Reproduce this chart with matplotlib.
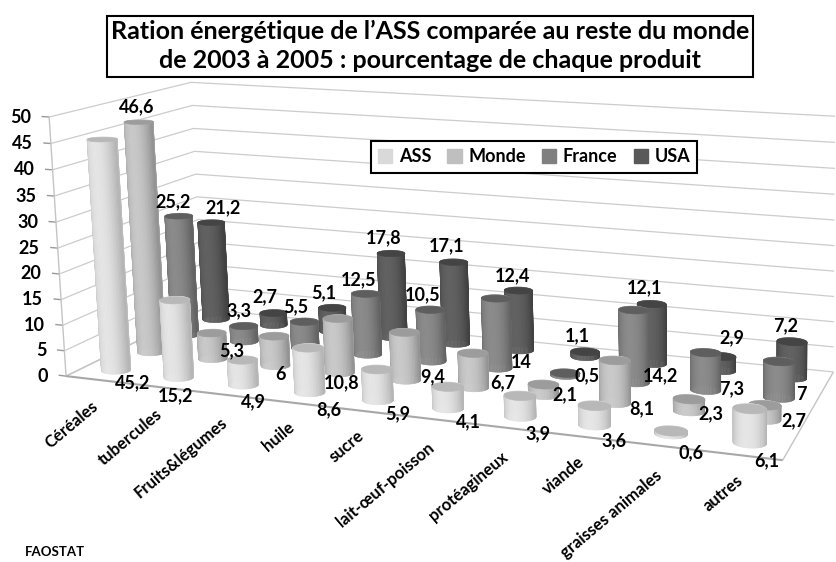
import numpy as np
import matplotlib
matplotlib.use('Agg')
import matplotlib.pyplot as plt
import matplotlib.patches as mpatches
from mpl_toolkits.mplot3d.art3d import Poly3DCollection, Line3DCollection

plt.rcParams['font.family'] = ['Lato', 'DejaVu Sans']
plt.rcParams['font.weight'] = 'bold'

W, H = 836, 562

categories = ["Céréales", "tubercules", "Fruits&légumes", "huile", "sucre",
              "lait-œuf-poisson", "protéagineux", "viande", "graisses animales", "autres"]
series = ["ASS", "Monde", "France", "USA"]
ass = [45.2, 15.2, 4.9, 8.6, 5.9, 4.1, 3.9, 3.6, 0.6, 6.1]
monde = [46.6, 5.3, 6, 10.8, 9.4, 6.7, 2.1, 8.1, 2.3, 2.7]
france = [25.2, 3.3, 5.5, 12.5, 10.5, 14, 0.5, 14.2, 7.3, 7]
usa = [21.2, 2.7, 5.1, 17.8, 17.1, 12.4, 1.1, 12.1, 2.9, 7.2]
z_ticks = list(range(0, 55, 5))

values = [ass, monde, france, usa]
legend_colors = ['#d9d9d9', '#bfbfbf', '#808080', '#595959']
# edge of the side, middle of the side, cap
shades = [('#b4b4b4', '#e6e6e6', '#b8b8b8'),
          ('#929292', '#cacaca', '#9c9c9c'),
          ('#626262', '#8c8c8c', '#5e5e5e'),
          ('#404040', '#626262', '#444444')]

# where the value labels sit, in picture pixels
label_pos = [
    [(133, 383), (176, 396), (253, 402), (329, 410), (398, 414), (468, 422), (538, 434), (614, 441), (691, 453), (767, 461)],
    [(137, 107), (232, 351), (280, 375), (342, 383), (433, 377), (503, 383), (565, 395), (642, 409), (711, 414), (794, 421)],
    [(173, 202), (239, 311), (296, 307), (359, 280), (423, 295), (521, 363), (587, 376), (661, 376), (732, 389), (801, 395)],
    [(223, 208), (265, 297), (324, 293), (384, 238), (447, 246), (512, 276), (577, 336), (645, 288), (732, 338), (786, 326)],
]
cat_label_pos = [(72, 425), (130, 437), (181, 458), (279, 437), (347, 446),
                 (385, 485), (468, 486), (563, 475), (611, 514), (723, 493)]

# camera fitted on points: (x, y, z) -> (px, py)
world_pts = [(-.5, -.5, 0), (-.5, -.5, 50), (-.5, 3.5, 50), (-.5, 3.5, 0), (9.5, 3.5, 50), (9.5, 3.5, 0),
             (9.5, -.5, 0), (0, 0, 0), (3, 0, 0), (4, 0, 0), (9, 0, 0), (0, 0, 45.2), (0, 1, 46.6), (0, 3, 21.2),
             (9, 3, 7.2), (9, 1, 0), (9, 2, 7), (3, 3, 17.8), (4, 3, 17.1), (7, 3, 12.1), (7, 2, 14.2), (5, 2, 14)]
pixel_pts = [(65, 378), (50, 117), (190, 80), (205, 310), (833, 113), (832, 370),
             (782, 465), (115, 364), (308, 390), (377, 399), (750, 440), (103, 142), (139, 122), (210, 223),
             (791, 342), (765, 418), (778, 362), (390, 255), (453, 263), (652, 305), (643, 312), (496, 300)]


def fit_camera(world, pixels):
    rows = []
    for (x, y, z), (u, v) in zip(world, pixels):
        rows.append([x, y, z, 1, 0, 0, 0, 0, -u * x, -u * y, -u * z, -u])
        rows.append([0, 0, 0, 0, x, y, z, 1, -v * x, -v * y, -v * z, -v])
    p = np.linalg.svd(np.array(rows))[2][-1].reshape(3, 4)
    return p / (p[2] @ np.array([4.5, 1.5, 10, 1]))


def px(x, y):
    return x / W, 1 - y / H


fig = plt.figure(figsize=(W / 100, H / 100), dpi=100)
# square axes as wide as the figure, mplot3d forces a square box anyway
ax = fig.add_axes([0, -(W - H) / 2 / H, 1, W / H], projection='3d')
ax.set_axis_off()
ax.computed_zorder = False

P = fit_camera(world_pts, pixel_pts)
x0, x1 = ax.viewLim.intervalx
y0, y1 = ax.viewLim.intervaly
# py=-(W-H)/2 is the top of the axes box
to_view = np.array([[(x1 - x0) / W, 0, x0],
                    [0, -(y1 - y0) / W, y1 - (y1 - y0) * ((W - H) / 2) / W],
                    [0, 0, 1]])
PV = to_view @ P
M = np.array([PV[0], PV[1], PV[2] - [0, 0, 0, 0.5], PV[2]])
ax.get_proj = lambda: M


def to_pixels(x, y, z):
    u, v, w = P @ np.array([x, y, z, 1])
    return u / w, v / w


def add_lines(segments, color, lw):
    ax.add_collection3d(Line3DCollection(segments, colors=color, linewidths=lw, zorder=2))


# walls
xl, xr, yf, yb = -0.5, 9.5, -0.5, 3.5
grid = []
marks = []
for z in z_ticks:
    grid.append([(xl, yf, z), (xl, yb, z), (xr, yb, z)])
    marks.append([(xl - 0.12, yf, z), (xl, yf, z)])
    ux, uy = to_pixels(xl, yf, z)
    fig.text(*px(ux - 18, uy), str(z), ha='right', va='center', fontsize=13)
add_lines(grid, '#cccccc', 0.9)
add_lines(marks, '#999999', 1)
add_lines([[(xl, yf, 0), (xl, yf, 50)], [(xr, yf, 0), (xr, yb, 0)], [(xl, yf, 0), (xl, yb, 0)]], '#c4c4c4', 1)
add_lines([[(xl, yf, 0), (xr, yf, 0)]], '#a8a8a8', 1.5)


def cylinder(cx, cy, h, edge, mid, cap, order):
    t = np.linspace(0, 2 * np.pi, 61)
    xs = cx + 0.205 * np.cos(t)
    ys = cy + 0.20 * np.sin(t)
    X = np.array([xs, xs])
    Y = np.array([ys, ys])
    Z = np.array([np.zeros_like(t), np.full_like(t, h)])
    e = np.array(matplotlib.colors.to_rgb(edge))
    m = np.array(matplotlib.colors.to_rgb(mid))
    k = np.abs(np.sin(t[:-1] + 0.05))[:, None]
    side = (e + (m - e) * k ** 1.3)[None, :, :]
    ax.plot_surface(X, Y, Z, facecolors=side, rstride=1, cstride=1, shade=False,
                    linewidth=0.4, zorder=order)
    ax.add_collection3d(Poly3DCollection([list(zip(xs, ys, np.full_like(t, h)))], facecolors=cap,
                                         edgecolors=cap, linewidths=0.4, zorder=order + 0.5))


for row in range(3, -1, -1):
    for i, v in enumerate(values[row]):
        cylinder(i, row, v, *shades[row], order=10 + (3 - row) * 12 + (9 - i))

# value labels
for row, vals in enumerate(values):
    for v, (lx, ly) in zip(vals, label_pos[row]):
        fig.text(*px(lx, ly), str(v).replace('.', ','), ha='center', va='center', fontsize=13)

# category labels
for name, (lx, ly) in zip(categories, cat_label_pos):
    fig.text(*px(lx, ly), name, ha='center', va='center', rotation=40, fontsize=12)

# title box
fig.add_artist(mpatches.Rectangle(px(107, 77), 646 / W, 61 / H, transform=fig.transFigure,
                                  facecolor='white', edgecolor='black', lw=1.5))
fig.text(*px(430, 31), "Ration énergétique de l’ASS comparée au reste du monde", ha='center', va='center', fontsize=18)
fig.text(*px(430, 61), "de 2003 à 2005 : pourcentage de chaque produit", ha='center', va='center', fontsize=18)

fig.text(*px(25, 552), "FAOSTAT", ha='left', va='center', fontsize=9.5)

handles = [mpatches.Patch(color=c, label=s) for c, s in zip(legend_colors, series)]
fig.legend(handles=handles, ncol=4, loc='center', bbox_to_anchor=px(534, 157), fontsize=13,
           frameon=True, fancybox=False, edgecolor='black', framealpha=1,
           handlelength=0.8, handleheight=0.8, handletextpad=0.35, columnspacing=0.9,
           borderpad=0.4, borderaxespad=0).get_frame().set_linewidth(1.5)

fig.savefig('out.png', dpi=100)
